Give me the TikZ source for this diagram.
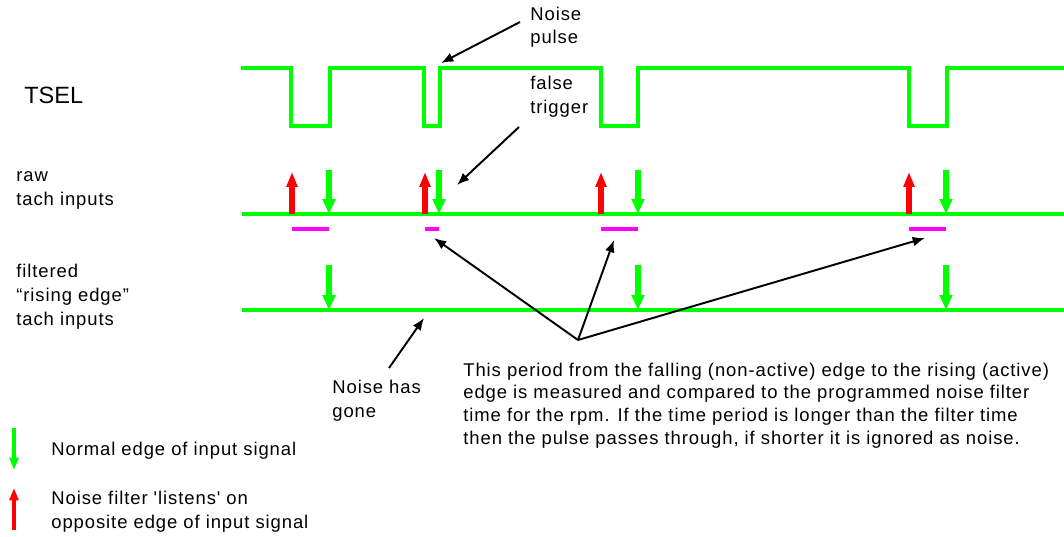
\documentclass[tikz,border=0pt]{standalone}
\usepackage{fontspec}
\setmainfont{Liberation Sans}[Ligatures=TeXOff, LetterSpace=5]
\newfontfamily\tselfont{Liberation Sans}[Ligatures=TeXOff]
\usetikzlibrary{arrows.meta}
\definecolor{SigGreen}{RGB}{0,255,0}
\definecolor{EdgeRed}{RGB}{255,0,0}
\definecolor{GapPink}{RGB}{255,0,255}

\begin{document}
\begin{tikzpicture}[
  x=0.02cm, y=-0.02cm,
  font=\fontsize{10.5}{13.1}\selectfont,
  wave/.style={draw=SigGreen, line width=2.8pt},
  normedge/.style={draw=SigGreen, line width=3.2pt, -{Triangle[width=7pt,length=8.5pt]}},
  listenedge/.style={draw=EdgeRed, line width=3.3pt, -{Triangle[width=6pt,length=8.5pt]}},
  keyedge/.style={line width=2.3pt, -{Triangle[width=5pt,length=7pt]}},
  gap/.style={draw=GapPink, line width=1.8pt},
  note/.style={draw=black, line width=1.1pt, -{Latex[length=7pt,width=5.5pt]}},
  lbl/.style={anchor=base west, inner sep=0pt, align=left}
]
\useasboundingbox (0,0) rectangle (1064,537);

% --- TSEL ---
\node[lbl, font=\tselfont\fontsize{13.4}{16}\selectfont] (tsel) at (24,104) {TSEL};
\draw[wave] (241,68) -| (291,126) -| (330,68) -| (424,126) -| (440,68)
  -| (601,126) -| (638,68) -| (909,126) -| (947,68) -- (1066,68);

% --- RAW TACH INPUTS ---
\node[lbl] (raw) at (16,205) {raw\\tach inputs};
\draw[wave] (242,214) coordinate (rawstart) -- (1066,214) coordinate (rawend);
\foreach \up/\dn [count=\i] in {292/329, 425/439, 601/638, 909/946}
{
  \coordinate (rise\i) at (\up,214);
  \coordinate (fall\i) at (\dn,214);
  \draw[listenedge] (rise\i) -- (\up,172);
  \draw[normedge] (\dn,170) -- (fall\i);
  \draw[gap] (\up,229) -- (\dn,229);
}

% --- FILTERED TACH INPUTS ---
\node[lbl, font=\fontsize{10.5}{13.6}\selectfont] (filt) at (16,325)
  {filtered\\“rising edge”\\tach inputs};
\draw[wave] (242,310) -- (1066,310);
\foreach \dn [count=\i] in {329,638,946}
{
  \coordinate (pass\i) at (\dn,310);
  \draw[normedge] (\dn,265) -- (pass\i);
}

% --- annotations ---
\node[lbl] (pulse) at (530,44) {Noise\\pulse};
\coordinate (pulsetail) at (520,22);
\coordinate (pulsetip) at (441,63);
\draw[note] (pulsetail) -- (pulsetip);

\node[lbl] (false) at (530,113) {false\\trigger};
\coordinate (falsetail) at (519,127);
\coordinate (falsetip) at (457,185);
\draw[note] (falsetail) -- (falsetip);

\node[lbl] (gone) at (332,417) {Noise has\\gone};
\coordinate (gonetail) at (389,368);
\coordinate (gonetip) at (424,318);
\draw[note] (gonetail) -- (gonetip);

\node[lbl, font=\fontsize{10.5}{12.9}\selectfont] (expl) at (463,444)
  {This period from the falling (non-active) edge to the rising (active)\\
   edge is measured and compared to the programmed noise filter\\
   time for the rpm. If the time period is longer than the filter time\\
   then the pulse passes through, if shorter it is ignored as noise.};
\coordinate (hub) at (578,340);
\coordinate (gapnote2) at (434,238);
\coordinate (gapnote3) at (614,240);
\coordinate (gapnote4) at (925,238);
\foreach \g in {2,3,4}
  \draw[note] (hub) -- (gapnote\g);

% --- legend ---
\draw[keyedge, draw=SigGreen] (14,428) -- (14,470) coordinate (keynorm);
\node[lbl] (normtxt) at (51,455) {Normal edge of input signal};
\draw[keyedge, draw=EdgeRed] (14,530) -- (14,488) coordinate (keylisten);
\node[lbl] (listentxt) at (51,528) {Noise filter 'listens' on\\opposite edge of input signal};

\end{tikzpicture}
\end{document}
